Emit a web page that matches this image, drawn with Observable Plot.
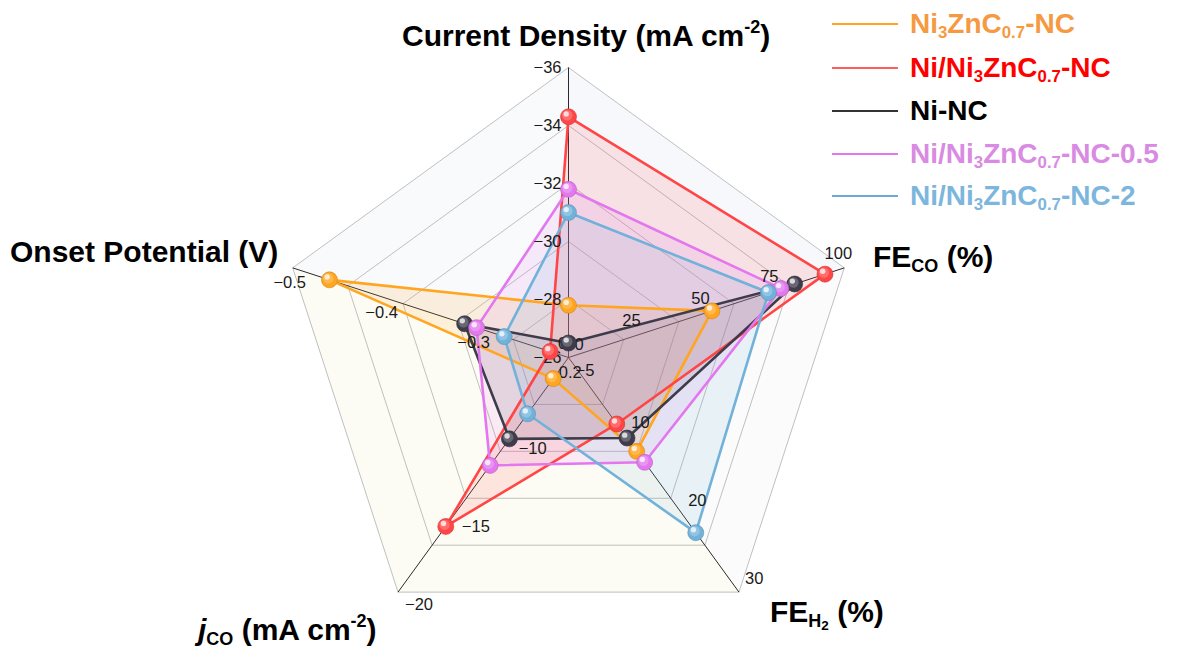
<!DOCTYPE html>
<html><head><meta charset="utf-8">
<script src="https://cdn.jsdelivr.net/npm/d3@7"></script>
<script src="https://cdn.jsdelivr.net/npm/@observablehq/plot@0.6"></script>
<style>
body{margin:0;background:#fff;font-family:"Liberation Sans",Arial,sans-serif;}
#wrap{position:relative;width:1184px;height:648px;overflow:hidden;}
#wrap svg{position:absolute;left:0;top:0;}
.lab{position:absolute;font-weight:bold;font-size:30px;line-height:1;white-space:nowrap;color:#000;}
.lab.lg{font-size:28px;}
.lab sub{font-size:0.6em;vertical-align:-0.3em;line-height:0;}
.lab sup{font-size:0.6em;vertical-align:0.75em;line-height:0;}
.leg{position:absolute;left:832px;width:66px;height:0;border-top:2px solid;}
</style></head><body><div id="wrap"></div>
<script>
// ---- data ----
const axisNames = ["Current Density", "FE_CO", "FE_H2", "j_CO", "Onset Potential"];
const axisInner = [-26, 0, 0, -5, -0.2];
const axisOuter = [-36, 100, 30, -20, -0.5];
const seriesNames = ["Ni3ZnC0.7-NC", "Ni/Ni3ZnC0.7-NC", "Ni-NC", "Ni/Ni3ZnC0.7-NC-0.5", "Ni/Ni3ZnC0.7-NC-2"];
const currentDensity = [-27.8, -34.3, -26.5, -31.8, -31.0];
const feCO = [52, 93, 82, 77, 72.5];
const feH2 = [12.0, 8.5, 10.3, 13.4, 22.4];
const jCO = [-6.35, -15.8, -10.2, -11.9, -8.6];
const onset = [-0.46, -0.22, -0.313, -0.30, -0.27];
const cdTicks = [-26, -28, -30, -32, -34, -36];
const feCOTicks = [0, 25, 50, 75, 100];
const feH2Ticks = [0, 10, 20, 30];
const jCOTicks = [-5, -10, -15, -20];
const onsetTicks = [-0.2, -0.3, -0.4, -0.5];
const ringLevels = [0.2, 0.4, 0.6, 0.8, 1.0];

// ---- styles ----
const lineColors = ["#FFA51F", "#FF4545", "#3E3B4B", "#E277EE", "#72B2DA"];
const legendText = ["#F59A42", "#FF0000", "#000000", "#D98AE2", "#7DB6DC"];
const legendLine = ["#FFA51F", "#FF5E5E", "#333333", "#E277EE", "#6FAAD2"];
const sectorColors = ["#f6f8fc", "#fafbfa", "#fdfcf4", "#fdfcf4", "#f9fafb"];
const tickStyle = [
  {textAnchor: "end", dx: -7, dy: 0},
  {textAnchor: "middle", dx: -6, dy: -14},
  {textAnchor: "start", dx: 6, dy: -13},
  {textAnchor: "start", dx: 7, dy: 13},
  {textAnchor: "middle", dx: -3, dy: 15}
];

const nAx = axisNames.length;
const ang = k => (90 - 72 * k) * Math.PI / 180;
const pos = (f, k) => ({x: f * Math.cos(ang(k)), y: f * Math.sin(ang(k))});
const frac = (v, k) => (v - axisInner[k]) / (axisOuter[k] - axisInner[k]);
const seriesValues = seriesNames.map((_, s) => [currentDensity[s], feCO[s], feH2[s], jCO[s], onset[s]]);
const allTicks = [cdTicks, feCOTicks, feH2Ticks, jCOTicks, onsetTicks];
const fmts = [d3.format("d"), d3.format("d"), d3.format("d"), d3.format("d"), d3.format(".1f")];

const marks = [];
for (let k = 0; k < nAx; k++) {
  const pts = [{x: 0, y: 0}, pos(1, k), pos(1, (k + 1) % nAx), {x: 0, y: 0}];
  marks.push(Plot.line(pts, {x: "x", y: "y", fill: sectorColors[k], stroke: "none"}));
}
const ringPts = [];
ringLevels.forEach(f => { for (let k = 0; k <= nAx; k++) ringPts.push({...pos(f, k % nAx), ring: f}); });
marks.push(Plot.line(ringPts, {x: "x", y: "y", z: "ring", stroke: "#b0b0b0", strokeWidth: 0.8}));
const spokes = d3.range(nAx).map(k => ({...pos(1, k)}));
marks.push(Plot.link(spokes, {x1: () => 0, y1: () => 0, x2: "x", y2: "y", stroke: "#2a2a2a", strokeWidth: 1}));
const seriesPts = seriesValues.map(vals => vals.map((v, k) => pos(frac(v, k), k)));
seriesPts.forEach((p, s) => {
  marks.push(Plot.line([...p, p[0]], {x: "x", y: "y", fill: lineColors[s], fillOpacity: 0.13, stroke: "none"}));
});
seriesPts.forEach((p, s) => {
  marks.push(Plot.line([...p, p[0]], {x: "x", y: "y", stroke: lineColors[s], strokeWidth: 2.6, strokeLinejoin: "round"}));
});
allTicks.forEach((ticks, k) => {
  const data = ticks.map(t => ({...pos(frac(t, k), k), label: fmts[k](t)}));
  marks.push(Plot.text(data, {x: "x", y: "y", text: "label", fontSize: 16.5, fill: "#1a1a1a", ...tickStyle[k]}));
});
seriesPts.forEach((p, s) => {
  marks.push(Plot.dot(p, {x: "x", y: "y", r: 8, fill: lineColors[s], stroke: d3.color(lineColors[s]).darker(0.6).formatHex(), strokeWidth: 0.6}));
  marks.push(Plot.dot(p, {x: "x", y: "y", r: 5.2, fill: "white", fillOpacity: 0.22, dx: -1.2, dy: -1.5}));
  marks.push(Plot.dot(p, {x: "x", y: "y", r: 2.7, fill: "white", fillOpacity: 0.75, dx: -2.3, dy: -2.9}));
});

const R = 290, cx = 568, cy = 357, W = 1184, H = 648;
const chart = Plot.plot({
  width: W, height: H, margin: 0,
  x: {domain: [-cx / R, (W - cx) / R], axis: null},
  y: {domain: [-(H - cy) / R, cy / R], axis: null},
  style: {fontFamily: "Liberation Sans, Arial, sans-serif", background: "transparent"},
  marks
});
const wrap = document.getElementById("wrap");
wrap.appendChild(chart);

function addLabel(html, left, top, color, cls) {
  const d = document.createElement("div");
  d.className = "lab" + (cls ? " " + cls : "");
  d.style.left = left + "px"; d.style.top = top + "px";
  if (color) d.style.color = color;
  d.innerHTML = html;
  wrap.appendChild(d);
}
addLabel("Current Density (mA cm<sup>-2</sup>)", 402, 21);
addLabel("Onset Potential (V)", 10, 237);
addLabel("FE<sub>CO</sub> (%)", 873, 242);
addLabel("FE<sub>H<sub style='font-size:0.75em;vertical-align:-0.2em'>2</sub></sub> (%)", 770, 597);
addLabel("<i>j</i><sub>CO</sub> (mA cm<sup>-2</sup>)", 198, 615);

const legendHtml = [
  "Ni<sub>3</sub>ZnC<sub>0.7</sub>-NC",
  "Ni/Ni<sub>3</sub>ZnC<sub>0.7</sub>-NC",
  "Ni-NC",
  "Ni/Ni<sub>3</sub>ZnC<sub>0.7</sub>-NC-0.5",
  "Ni/Ni<sub>3</sub>ZnC<sub>0.7</sub>-NC-2"
];
const legendY = [24, 68, 111, 154, 196];
seriesNames.forEach((name, s) => {
  const ln = document.createElement("div");
  ln.className = "leg";
  ln.style.top = (legendY[s] - 1) + "px";
  ln.style.borderTopColor = legendLine[s];
  wrap.appendChild(ln);
  addLabel(legendHtml[s], 910, legendY[s] - 14, legendText[s], "lg");
});
</script>
</body></html>
